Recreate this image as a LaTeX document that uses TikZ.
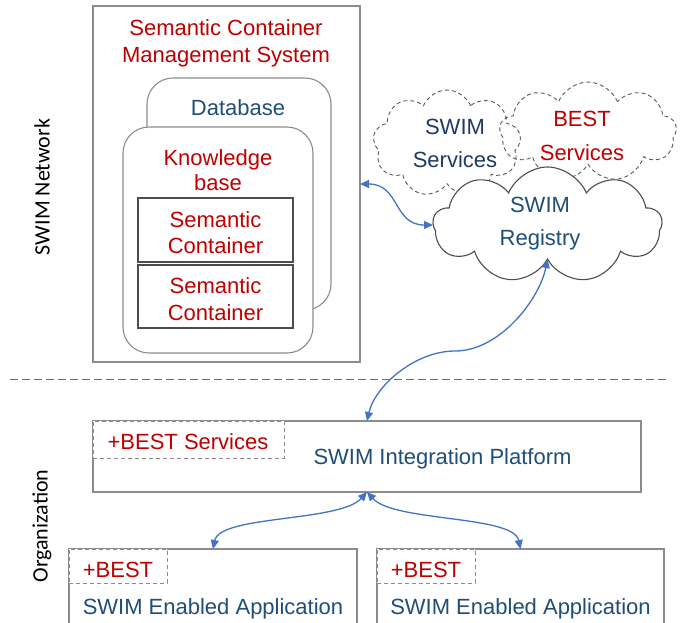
\documentclass[tikz,border=0pt]{standalone}
\usepackage{fontspec}
\setmainfont{Liberation Sans}
\newfontfamily\calibfont{Carlito}
\usetikzlibrary{shapes.symbols,arrows.meta}
\definecolor{myred}{HTML}{C00000}
\definecolor{myblue}{HTML}{1F4E79}
\definecolor{mynavy}{HTML}{203864}
\definecolor{arrowblue}{HTML}{4472C4}
\definecolor{boxgray}{HTML}{8C8C8C}
\definecolor{darkline}{HTML}{4D4D4D}
\definecolor{cloudgray}{HTML}{5A5A5A}
\newcommand\twol[3]{{\renewcommand\arraystretch{#1}\begin{tabular}[t]{@{}c@{}}#2\\#3\end{tabular}}}
\begin{document}
\begin{tikzpicture}[x=1pt,y=-1pt,
  every node/.style={font=\fontsize{22}{26}\selectfont, inner sep=0pt, outer sep=0pt},
  box/.style={draw=boxgray, line width=1.1pt, fill=white, rectangle},
  dbox/.style={draw=boxgray, line width=1pt, dash pattern=on 4pt off 3pt, fill=white, rectangle},
  rbox/.style={draw=boxgray, line width=1.1pt, fill=white, rounded corners=26pt, rectangle},
  scbox/.style={draw=darkline, line width=1.3pt, fill=white, rectangle},
  redtxt/.style={text=myred},
  bluetxt/.style={text=myblue},
  cloudbase/.style={cloud, cloud puffs=9, cloud puff arc=135},
  dcloud/.style={cloudbase, draw=cloudgray, line width=0.9pt, dash pattern=on 4pt off 3pt},
  conn/.style={draw=arrowblue, line width=1.3pt, {Triangle[length=9pt,width=8pt]}-{Triangle[length=9pt,width=8pt]}},
  sidelabel/.style={rotate=90, font=\calibfont\fontsize{22}{26}\selectfont}
]
\useasboundingbox (0,0) rectangle (691,622);
\clip (0,0) rectangle (691,622);

% side labels
\node[sidelabel] (net) at (42,187) {SWIM Network};
\node[sidelabel] (org) at (42,526) {Organization};

% separator
\coordinate (sepL) at (10,379);
\coordinate (sepR) at (668,379);
\draw[arrowblue, line width=0.8pt, dash pattern=on 8pt off 4pt] (sepL) -- (sepR);

% Semantic Container Management System
\node[box, minimum width=267pt, minimum height=356pt] (scms) at (226.5,184) {};
\node[redtxt, anchor=base] (scmst) at (226,35) {\twol{1.04}{Semantic Container}{Management System}};
\node[rbox, minimum width=184pt, minimum height=232pt] (db) at (239,194) {};
\node[bluetxt, anchor=base] (dbt) at (238,115) {Database};
\node[rbox, minimum width=190pt, minimum height=226pt] (kb) at (218,240) {};
\node[redtxt, anchor=base] (kbt) at (218,165) {\twol{0.98}{Knowledge}{base}};
\node[scbox, minimum width=155pt, minimum height=64pt] (sc1) at (215.5,230) {};
\node[redtxt, anchor=base] (sc1t) at (215.5,227) {\twol{1}{Semantic}{Container}};
\node[scbox, minimum width=155pt, minimum height=63pt] (sc2) at (215.5,296.5) {};
\node[redtxt, anchor=base] (sc2t) at (215.5,293) {\twol{1.04}{Semantic}{Container}};

% clouds
\node[dcloud, minimum width=148pt, minimum height=107pt] (ssvc) at (447,143.5) {};
\node[text=mynavy, anchor=base] (ssvct) at (455,134) {\twol{1.27}{SWIM}{Services}};
\node[dcloud, minimum width=177pt, minimum height=100pt] (bsvc) at (588,132) {};
\node[redtxt, anchor=base] (bsvct) at (582,126) {\twol{1.31}{BEST}{Services}};
\node[cloudbase, draw=darkline, line width=1.1pt, fill=white, minimum width=229pt, minimum height=116pt] (reg) at (547.5,225) {};
\node[bluetxt, anchor=base] (regt) at (540,212) {\twol{1.27}{SWIM}{Registry}};

% integration platform
\node[box, minimum width=548pt, minimum height=71pt] (plat) at (367,456.5) {};
\node[dbox, anchor=north west, minimum width=191pt, minimum height=37pt] (pbest) at (93,421) {};
\node[redtxt, anchor=base] (pbestt) at (188,449) {+BEST Services};
\node[bluetxt, anchor=base] (platt) at (442.5,464) {SWIM Integration Platform};

% applications
\node[box, anchor=north west, minimum width=288pt, minimum height=100pt] (app1) at (69,549) {};
\node[dbox, anchor=north west, minimum width=98pt, minimum height=34pt] (a1best) at (69,549) {};
\node[redtxt, anchor=base] (a1bestt) at (118,577) {+BEST};
\node[bluetxt, anchor=base] (app1t) at (213,614) {SWIM Enabled Application};
\node[box, anchor=north west, minimum width=287pt, minimum height=100pt] (app2) at (377,549) {};
\node[dbox, anchor=north west, minimum width=98pt, minimum height=34pt] (a2best) at (377,549) {};
\node[redtxt, anchor=base] (a2bestt) at (426,577) {+BEST};
\node[bluetxt, anchor=base] (app2t) at (520.5,614) {SWIM Enabled Application};

% connectors
\coordinate (mid2) at (455,351);
\draw[conn] (scms.east) .. controls +(40,0) and +(-40,0) .. (reg.west);
\draw[conn] (reg.south) .. controls +(-8,40) and +(45,0) .. (mid2) .. controls +(-40,0) and +(8,-35) .. (plat.north);
\draw[conn] (plat.south) .. controls +(-27,30) and +(7,-34) .. (app1.north);
\draw[conn] (plat.south) .. controls +(27,30) and +(-7,-34) .. (app2.north);
\end{tikzpicture}
\end{document}
